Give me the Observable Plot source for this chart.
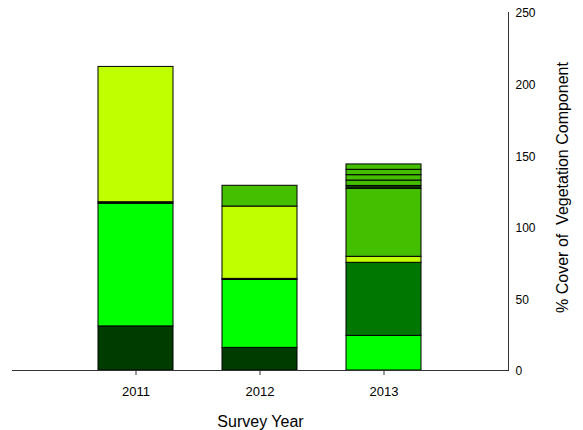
<!DOCTYPE html>
<html>
<head>
<meta charset="utf-8">
<script src="https://cdn.jsdelivr.net/npm/d3@7"></script>
<script src="https://cdn.jsdelivr.net/npm/@observablehq/plot@0.6"></script>
<style>
  html, body { margin: 0; padding: 0; background: #fff; }
  #chart { width: 583px; height: 430px; }
</style>
</head>
<body>
<div id="chart"></div>
<script>
// Survey years along the x axis
const years = ["2011", "2012", "2013"];

// Vegetation components, in stacking order from the ground up
const components = [
  "Component 1", "Component 2", "Component 3", "Component 4", "Component 5",
  "Component 6", "Component 7", "Component 8", "Component 9", "Component 10", "Component 11"
];
const componentColors = [
  "#003c00", "#00ff00", "#0a2a00", "#007800", "#bfff00",
  "#44bf00", "#0a3300", "#44bf00", "#44bf00", "#44bf00", "#44bf00"
];

// % cover of each component, per survey year
const cover2011 = [30.8, 85.7, 1.0, 0, 94.5, 0, 0, 0, 0, 0, 0];
const cover2012 = [15.8, 47.4, 0.8, 0, 50.5, 14.5, 0, 0, 0, 0, 0];
const cover2013 = [0, 24.2, 0, 51.0, 4.2, 47.5, 2.0, 3.75, 3.75, 3.75, 3.75];

const yTicks = [0, 50, 100, 150, 200, 250];

const coverByYear = [cover2011, cover2012, cover2013];
const rows = [];
years.forEach((year, i) => {
  components.forEach((name, j) => {
    rows.push({year, component: name, color: componentColors[j], value: coverByYear[i][j]});
  });
});
const data = rows.filter(d => d.value > 0);

const axisColor = "#333";

const chart = Plot.plot({
  width: 583,
  height: 430,
  marginLeft: 12,
  marginRight: 75,
  marginTop: 12,
  marginBottom: 60,
  style: {fontFamily: "'Liberation Sans', Arial, sans-serif", fontSize: "12px", color: "#000", background: "#fff"},
  x: {domain: years, paddingInner: 0.395, paddingOuter: 0.6975, label: null},
  y: {domain: [0, 250], label: null},
  color: {type: "identity"},
  marks: [
    Plot.barY(data, {
      x: "year",
      y: "value",
      z: "component",
      fill: "color",
      stroke: "#000",
      strokeWidth: 1
    }),
    Plot.ruleY([0], {stroke: axisColor, strokeWidth: 1}),
    Plot.frame({anchor: "right", stroke: axisColor, strokeWidth: 1}),
    Plot.axisX({tickSize: 5, tickPadding: 11, fontSize: 13, stroke: axisColor, label: null}),
    Plot.axisY(yTicks, {anchor: "right", tickSize: 0, tickPadding: 7, fontSize: 12, textAnchor: "start", dy: 1, label: null}),
    Plot.text(["Survey Year"], {frameAnchor: "bottom", dy: 56, fontSize: 16, fill: "#000"}),
    Plot.text(["% Cover of\u00a0 Vegetation Component"], {frameAnchor: "right", textAnchor: "middle", rotate: -90, dx: 54, dy: -4, fontSize: 16, fill: "#000"})
  ]
});

document.getElementById("chart").appendChild(chart);
</script>
</body>
</html>
